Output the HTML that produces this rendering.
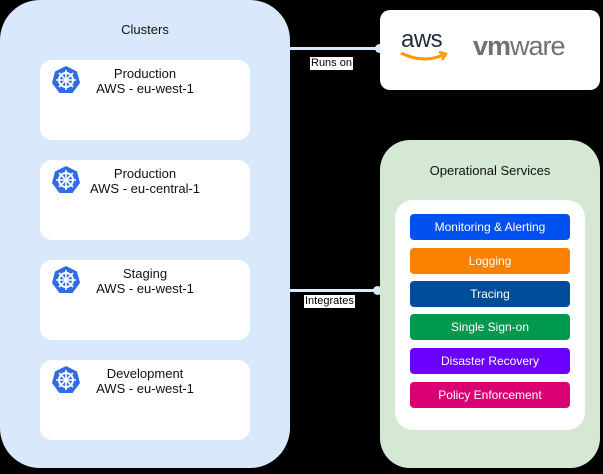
<html><body style="margin:0;width:603px;height:474px;background:#000;position:relative;overflow:hidden;font-family:'Liberation Sans',sans-serif">
<style>
.a{position:absolute;box-sizing:border-box}
.c{background:#fff;border-radius:12px;left:40px;width:210px;height:80px}
.c .t{position:absolute;left:0;right:0;top:6px;text-align:center;font-size:13px;line-height:15px;color:#111}
.c svg{position:absolute;left:11px;top:5px}
.b{left:410px;width:160px;height:26px;border-radius:4px;color:#fff;font-size:12px;text-align:center;line-height:26px}
.l{background:#fff;color:#000;font-size:11px;padding:0 1px;line-height:13px}
</style>
<div class="a" style="left:0;top:0;width:290px;height:468px;background:#dae8fc;border-radius:40px"></div>
<div class="a" style="left:0;top:22px;width:290px;text-align:center;font-size:13px;color:#111">Clusters</div>
<div class="a c" style="top:60px"><svg width="30" height="30" viewBox="0 0 30 30"><polygon points="15,1 26,6.5 29,18 21.5,28 8.5,28 1,18 4,6.5" fill="#326ce5"/><circle cx="15" cy="15" r="7" fill="none" stroke="#fff" stroke-width="2"/><g stroke="#fff" stroke-width="1.6"><line x1="15" y1="5" x2="15" y2="25"/><line x1="5" y1="15" x2="25" y2="15"/><line x1="8" y1="8" x2="22" y2="22"/><line x1="22" y1="8" x2="8" y2="22"/></g></svg><div class="t">Production<br>AWS - eu-west-1</div></div>
<div class="a c" style="top:160px"><svg width="30" height="30" viewBox="0 0 30 30"><polygon points="15,1 26,6.5 29,18 21.5,28 8.5,28 1,18 4,6.5" fill="#326ce5"/><circle cx="15" cy="15" r="7" fill="none" stroke="#fff" stroke-width="2"/><g stroke="#fff" stroke-width="1.6"><line x1="15" y1="5" x2="15" y2="25"/><line x1="5" y1="15" x2="25" y2="15"/><line x1="8" y1="8" x2="22" y2="22"/><line x1="22" y1="8" x2="8" y2="22"/></g></svg><div class="t">Production<br>AWS - eu-central-1</div></div>
<div class="a c" style="top:260px"><svg width="30" height="30" viewBox="0 0 30 30"><polygon points="15,1 26,6.5 29,18 21.5,28 8.5,28 1,18 4,6.5" fill="#326ce5"/><circle cx="15" cy="15" r="7" fill="none" stroke="#fff" stroke-width="2"/><g stroke="#fff" stroke-width="1.6"><line x1="15" y1="5" x2="15" y2="25"/><line x1="5" y1="15" x2="25" y2="15"/><line x1="8" y1="8" x2="22" y2="22"/><line x1="22" y1="8" x2="8" y2="22"/></g></svg><div class="t">Staging<br>AWS - eu-west-1</div></div>
<div class="a c" style="top:360px"><svg width="30" height="30" viewBox="0 0 30 30"><polygon points="15,1 26,6.5 29,18 21.5,28 8.5,28 1,18 4,6.5" fill="#326ce5"/><circle cx="15" cy="15" r="7" fill="none" stroke="#fff" stroke-width="2"/><g stroke="#fff" stroke-width="1.6"><line x1="15" y1="5" x2="15" y2="25"/><line x1="5" y1="15" x2="25" y2="15"/><line x1="8" y1="8" x2="22" y2="22"/><line x1="22" y1="8" x2="8" y2="22"/></g></svg><div class="t">Development<br>AWS - eu-west-1</div></div>

<div class="a" style="left:290px;top:47px;width:90px;height:3px;background:#dae8fc"></div>
<div class="a" style="left:375px;top:44px;width:9px;height:9px;border-radius:50%;background:#dae8fc"></div>
<div class="a l" style="left:310px;top:57px">Runs on</div>
<div class="a" style="left:290px;top:289px;width:88px;height:3px;background:#dae8fc"></div>
<div class="a" style="left:373px;top:286px;width:9px;height:9px;border-radius:50%;background:#dae8fc"></div>
<div class="a l" style="left:304px;top:295px">Integrates</div>

<div class="a" style="left:380px;top:10px;width:220px;height:80px;background:#fff;border-radius:10px"></div>
<div class="a" style="left:401px;top:26px;font-size:24px;color:#232f3e;letter-spacing:-0.5px">aws</div>
<svg class="a" style="left:399px;top:50px" width="50" height="14"><path d="M2 3 Q24 14 44 5" stroke="#f90" stroke-width="3" fill="none"/><path d="M40 2 L47 4 L43 10" stroke="#f90" stroke-width="2.5" fill="none"/></svg>
<div class="a" style="left:473px;top:31px;font-size:27px;color:#717074;letter-spacing:-1px"><b>vm</b>ware</div>

<div class="a" style="left:380px;top:140px;width:220px;height:328px;background:#d5e8d4;border-radius:30px"></div>
<div class="a" style="left:380px;top:163px;width:220px;text-align:center;font-size:13px;color:#111">Operational Services</div>
<div class="a" style="left:395px;top:200px;width:190px;height:230px;background:#fff;border-radius:18px"></div>
<div class="a b" style="top:214px;background:#0050ef">Monitoring &amp; Alerting</div>
<div class="a b" style="top:248px;background:#fa8200">Logging</div>
<div class="a b" style="top:281px;background:#004c99">Tracing</div>
<div class="a b" style="top:314px;background:#00994d">Single Sign-on</div>
<div class="a b" style="top:348px;background:#6a00ff">Disaster Recovery</div>
<div class="a b" style="top:382px;background:#d80073">Policy Enforcement</div>
</body></html>
